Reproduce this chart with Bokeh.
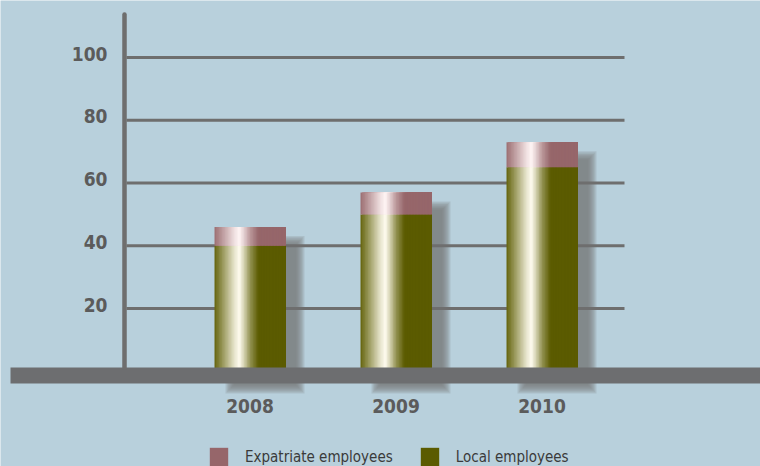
import numpy as np
from bokeh.plotting import figure
from bokeh.models import Range1d, ColumnDataSource, Legend, LegendItem
from bokeh.core.properties import value
from bokeh.embed import file_html
from bokeh.resources import INLINE

# ---- data ----
years = ["2008", "2009", "2010"]
local_employees = [40, 50, 65]
expatriate_employees = [6, 7, 8]
y_ticks = [20, 40, 60, 80, 100]
tick_labels = ["20", "40", "60", "80", "100"]

# ---- styling constants ----
BG = "#b8d0dc"
GRID = "#6e6e6e"
BAND = "#6d6e70"
OLIVE = (0x5b, 0x5b, 0x00)
MAUVE = (0x96, 0x66, 0x6a)
HI_OLIVE = (0xff, 0xfc, 0xf0)
HI_MAUVE = (0xff, 0xf5, 0xf5)
TEXT = "#5b5b5b"
FONT = "DejaVu Sans Condensed"

W, H = 760, 466
px_x = 146.0          # pixels per category step
px_y = 3.1375         # pixels per value unit
x0_px = 249.5         # pixel of first category
y0_px = 370.75        # pixel (from top) of value 0

p = figure(width=W, height=H, output_backend="svg", toolbar_location=None,
           x_range=Range1d(-x0_px / px_x, (W - x0_px) / px_x),
           y_range=Range1d(-(H - y0_px) / px_y, y0_px / px_y),
           x_axis_location=None, y_axis_location=None, min_border=0)
p.background_fill_color = BG
p.border_fill_color = BG
p.outline_line_color = None
p.xgrid.visible = False
p.ygrid.visible = False

xs = np.arange(len(years), dtype=float)
loc = np.array(local_employees, dtype=float)
exp = np.array(expatriate_employees, dtype=float)
tot = loc + exp
bw = 71.0 / px_x

# ---- soft shadows ----
dx = 15.0 / px_x
dy = 13.0 / px_y
shadow_bottom = -(389.0 - y0_px) / px_y
for e in np.linspace(-4, 4, 7):
    ex = e / px_x
    ey = e / px_y
    p.quad(left=xs - bw / 2 + dx - ex, right=xs + bw / 2 + dx + ex,
           top=tot - dy + ey, bottom=np.full(len(xs), shadow_bottom - ey),
           fill_color="#767676", fill_alpha=0.19, line_color=None)

# ---- grid lines ----
g_left = (126 - x0_px) / px_x
g_right = (624 - x0_px) / px_x
p.segment(x0=[g_left] * len(y_ticks), x1=[g_right] * len(y_ticks),
          y0=y_ticks, y1=y_ticks, line_color=GRID, line_width=3)

# ---- gradient bars (overlapping vertical strips, later ones on top) ----
N = 48
tk = (np.arange(N) + 0.5) / N
hp_t = [0.0, 0.08, 0.2, 0.28, 0.35, 0.42, 0.5, 0.62, 1.0]
hp_h = [0.06, 0.28, 0.62, 0.85, 1.0, 0.72, 0.35, 0.0, 0.0]
hk = np.interp(tk, hp_t, hp_h)


def mix(base, hi, h):
    return "#%02x%02x%02x" % tuple(int(round(b * (1 - h) + c * h)) for b, c in zip(base, hi))


sw = bw / N
rows = {"left": [], "right": [], "bottom": [], "top": [], "color": []}
for k in range(N):
    for i in range(len(xs)):
        lft = xs[i] - bw / 2 + k * sw
        rgt = xs[i] + bw / 2
        rows["left"] += [lft, lft]
        rows["right"] += [rgt, rgt]
        rows["bottom"] += [0.0, loc[i]]
        rows["top"] += [loc[i], tot[i]]
        rows["color"] += [mix(OLIVE, HI_OLIVE, hk[k]), mix(MAUVE, HI_MAUVE, hk[k])]
src = ColumnDataSource(rows)
p.quad(left="left", right="right", bottom="bottom", top="top",
       fill_color="color", line_color=None, source=src)

# ---- base band ----
band_top = (y0_px - 367.0) / px_y
band_bot = (y0_px - 383.0) / px_y
p.quad(left=[(10 - x0_px) / px_x], right=[(W + 5 - x0_px) / px_x],
       top=[band_top], bottom=[band_bot], fill_color=BAND, line_color=None)

# ---- y axis line ----
ax_x = (124 - x0_px) / px_x
p.segment(x0=[ax_x], x1=[ax_x], y0=[band_top], y1=[(y0_px - 14) / px_y],
          line_color=GRID, line_width=4.5, line_cap="round")

# ---- tick labels ----
p.text(x=[(107 - x0_px) / px_x] * len(y_ticks), y=y_ticks, text=tick_labels,
       text_align="right", text_baseline="middle", y_offset=-4,
       text_font=value(FONT), text_font_style="bold", text_font_size="19px",
       text_color=TEXT)

# ---- year labels ----
p.text(x=xs, y=[(y0_px - 405) / px_y] * len(xs), text=years,
       text_align="center", text_baseline="middle",
       text_font=value(FONT), text_font_style="bold", text_font_size="19px",
       text_color=TEXT)

# ---- legend (zero-height proxy glyphs) ----
r_exp = p.vbar(x=[0], top=[0], bottom=[0], width=0.0, fill_color=mix(MAUVE, HI_MAUVE, 0),
               line_color=None)
r_loc = p.vbar(x=[0], top=[0], bottom=[0], width=0.0, fill_color=mix(OLIVE, HI_OLIVE, 0),
               line_color=None)
legend = Legend(items=[LegendItem(label="Expatriate employees", renderers=[r_exp]),
                       LegendItem(label="Local employees", renderers=[r_loc])],
                orientation="horizontal", location=(207, -2),
                padding=0, margin=0, spacing=25, label_standoff=15,
                glyph_width=23, glyph_height=23, label_height=23,
                label_text_font=FONT, label_text_font_size="15px",
                label_text_color="#3a3a3a", label_text_baseline="middle",
                background_fill_alpha=0, border_line_alpha=0)
p.add_layout(legend, "center")

open("out.html", "w").write(file_html(p, INLINE))
